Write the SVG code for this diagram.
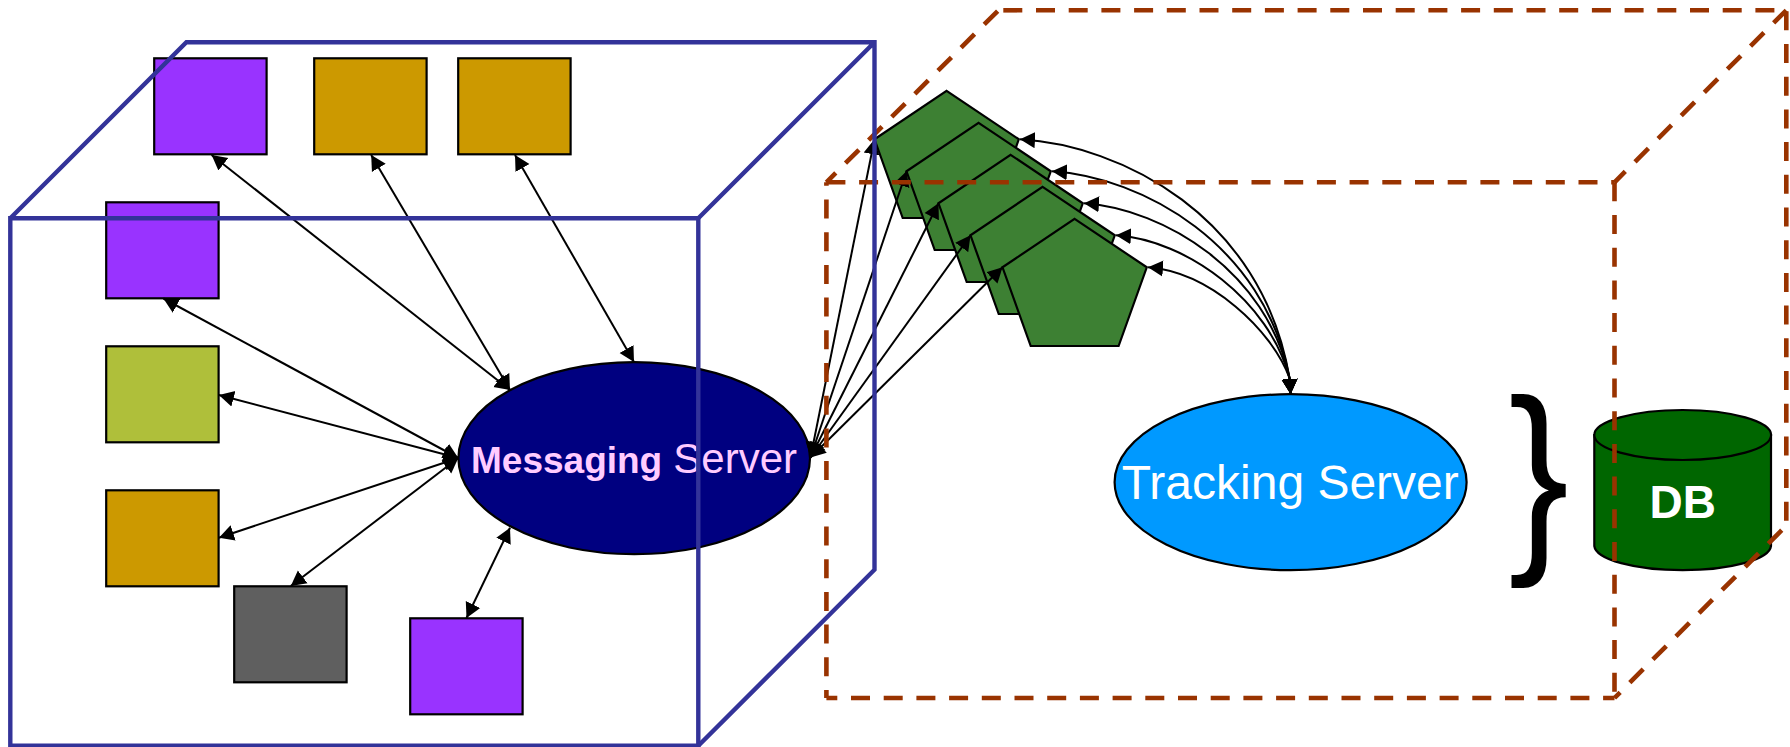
<svg xmlns="http://www.w3.org/2000/svg" width="1790" height="747" viewBox="0 0 1790 747">
<style>
.sq{stroke:#000;stroke-width:2.2}
.p{fill:#9933FF}.g{fill:#CC9900}
.pent{fill:#3D8033;stroke:#000;stroke-width:2.2;stroke-linejoin:miter}
.c{fill:none;stroke:#000;stroke-width:2;marker-start:url(#ah);marker-end:url(#ah)}
.blue{fill:none;stroke:#333399;stroke-width:4.4;stroke-linejoin:miter}
.br{fill:none;stroke:#993300;stroke-width:4.6;stroke-dasharray:19 13.7}
text{font-family:"Liberation Sans",Arial,sans-serif}
</style>
<defs>
<marker id="ah" markerUnits="userSpaceOnUse" markerWidth="18" markerHeight="18" refX="15" refY="9" orient="auto-start-reverse" viewBox="0 0 18 18"><path d="M0,1 L15,9 L0,17 Z" fill="#000"/></marker>
<polygon id="pg" points="946.6,90.8 1018.8,139.3 990.6,218 902.7,218 874.5,139.3"/>
</defs>
<rect width="1790" height="747" fill="#fff"/>
<g id="node-client-1"><rect class="sq p" x="154.2" y="58.3" width="112.4" height="96"/></g>
<g id="node-client-2"><rect class="sq g" x="314.2" y="58.3" width="112.4" height="96"/></g>
<g id="node-client-3"><rect class="sq g" x="458.2" y="58.3" width="112.4" height="96"/></g>
<g id="node-client-4"><rect class="sq p" x="106.2" y="202.3" width="112.4" height="96"/></g>
<g id="node-client-5"><rect class="sq" fill="#AFBF3A" x="106.2" y="346.3" width="112.4" height="96"/></g>
<g id="node-client-6"><rect class="sq g" x="106.2" y="490.3" width="112.4" height="96"/></g>
<g id="node-client-7"><rect class="sq" fill="#5F5F5F" x="234.2" y="586.3" width="112.4" height="96"/></g>
<g id="node-client-8"><rect class="sq p" x="410.2" y="618.3" width="112.4" height="96"/></g>
<g id="node-messaging-server">
<ellipse cx="634.2" cy="458.2" rx="175.8" ry="96" fill="#000080" stroke="#000" stroke-width="2.2"/>
<text x="471" y="473.4" fill="#FFCCFF" font-size="37" font-weight="bold">Messaging</text>
<text x="673.3" y="473.4" fill="#FFCCFF" font-size="42">Server</text>
</g>
<g id="node-worker-1"><use href="#pg" class="pent"/></g>
<g id="node-worker-2"><use href="#pg" class="pent" x="32" y="32"/></g>
<g id="node-worker-3"><use href="#pg" class="pent" x="64" y="64"/></g>
<g id="node-worker-4"><use href="#pg" class="pent" x="96" y="96"/></g>
<g id="node-worker-5"><use href="#pg" class="pent" x="128" y="128"/></g>
<g id="node-tracking-server">
<ellipse cx="1290.6" cy="482.2" rx="176" ry="88" fill="#0099FF" stroke="#000" stroke-width="2.2"/>
<text x="1121.8" y="499.3" fill="#fff" font-size="48">Tracking Server</text>
</g>
<g id="node-brace"><text transform="translate(1508.5,545) scale(.87,1)" fill="#000" font-size="208">}</text></g>
<g id="node-db">
<path d="M1594.3,435 V546 A88.4,25 0 0 0 1771,546 V435 Z" fill="#006600" stroke="#000" stroke-width="2.2"/>
<ellipse cx="1682.7" cy="435" rx="88.4" ry="25" fill="#006600" stroke="#000" stroke-width="2.2"/>
<text x="1682.7" y="518" fill="#fff" font-size="46" font-weight="bold" text-anchor="middle">DB</text>
</g>
<g id="connectors">
<path class="c" d="M211.6,155 L510,390"/>
<path class="c" d="M371.2,155 L510,390"/>
<path class="c" d="M515,155 L634,362"/>
<path class="c" d="M163.4,298.5 L458.3,458"/>
<path class="c" d="M218.9,395 L458.3,458"/>
<path class="c" d="M218.9,537.7 L458.3,458"/>
<path class="c" d="M290.8,586 L458.3,458"/>
<path class="c" d="M466.5,618 L510,527.7"/>
<path class="c" d="M874.5,139.3 L810.5,457.5"/>
<path class="c" d="M906.5,171.3 L810.5,457.5"/>
<path class="c" d="M938.5,203.3 L810.5,457.5"/>
<path class="c" d="M970.5,235.3 L810.5,457.5"/>
<path class="c" d="M1002.5,267.3 L810.5,457.5"/>
<path class="c" d="M1020,139.3 C1120,145 1262,215 1289.5,378 L1290.6,394"/>
<path class="c" d="M1052,171.3 C1142,177 1264.5,244 1289.5,378 L1290.6,394"/>
<path class="c" d="M1084,203.3 C1165,209 1267,272 1289.5,378 L1290.6,394"/>
<path class="c" d="M1116,235.3 C1187,240 1269.5,301 1289.5,378 L1290.6,394"/>
<path class="c" d="M1148,267.3 C1210,272 1272,330 1289.5,378 L1290.6,394"/>
</g>
<g id="tracking-cube">
<path class="br" d="M826.4,182.3 H1614.5"/>
<path class="br" d="M1614.5,182.3 V698"/>
<path class="br" d="M826.4,182.3 V698" stroke-dashoffset="15.5"/>
<path class="br" d="M826.4,698 H1614.5" stroke-dashoffset="8.1"/>
<path class="br" d="M826.4,182.3 L998.4,10.3" stroke-dashoffset="5.7"/>
<path class="br" d="M998.4,10.3 H1786.3" stroke-dashoffset="27.8"/>
<path class="br" d="M1614.5,182.3 L1786.3,10.3" stroke-dashoffset="3.7"/>
<path class="br" d="M1786.3,10.3 V525.6" stroke-dashoffset="31.7"/>
<path class="br" d="M1786.3,525.6 L1614.5,698" stroke-dashoffset="26.2"/>
</g>
<g id="messaging-cube">
<path class="blue" d="M10.3,218.3 H698.3 V745.7 H10.3 Z"/>
<path class="blue" d="M10.3,218.3 L186.4,42.3 H874.5 V569.7 L698.3,745.7 M698.3,218.3 L874.5,42.3"/>
</g>
</svg>
